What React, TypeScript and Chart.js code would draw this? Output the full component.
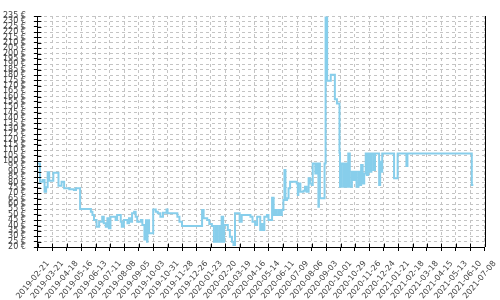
import React, { useEffect, useRef } from "react";
import { Chart, registerables } from "chart.js";

Chart.register(...registerables);

// ---- data ----
const startDate = "2019-02-21";
const xMaxDays = 868;
const xStepDays = 28;
const yMin = 20;
const yMax = 235;
const yStep = 5;
const currency = "€";

// days since 2019-02-21 at which the price changes
const dayOffsets = [
  0, 4, 9, 13, 16, 19, 22, 30, 40, 46, 51, 61, 70, 74, 82, 103, 106, 109, 114, 119,
  125, 128, 132, 135, 138, 141, 151, 154, 161, 163, 167, 174, 177, 180, 183, 187, 190, 193, 200, 203,
  207, 210, 212, 213, 216, 224, 229, 233, 238, 243, 250, 252, 271, 275, 280, 319, 322, 329, 333, 338,
  342, 346, 348, 352, 355, 357, 360, 362, 369, 373, 377, 380, 383, 392, 396, 413, 417, 422, 426, 432,
  435, 438, 440, 445, 448, 455, 458, 461, 464, 468, 471, 474, 477, 479, 481, 484, 487, 490, 503, 505,
  506, 510, 516, 519, 522, 526, 529, 532, 534, 539, 542, 545, 546, 548, 557, 559, 562, 569, 577, 581,
  586, 587, 590, 594, 597, 600, 603, 606, 610, 613, 616, 619, 623, 626, 628, 631, 634, 637, 639, 642,
  645, 648, 652, 655, 663, 665, 668, 669, 692, 699, 716, 718, 843, 846,
];

const prices = [
  97.8, 80.7, 82.3, 71.4, 75.5, 89.5, 81.7, 89.1, 77.0, 80.7, 74.6, 73.7, 73.0, 74.6, 55.3, 52.8, 49.8, 45.1, 38.9, 43.5,
  48.2, 42.0, 38.9, 46.7, 37.4, 48.2, 45.1, 49.8, 43.5, 38.9, 45.1, 42.0, 46.7, 43.5, 51.3, 52.8, 48.2, 43.5, 45.1, 40.5,
  27.0, 45.0, 25.0, 45.0, 32.7, 55.0, 52.8, 51.3, 48.2, 51.9, 55.0, 51.3, 48.2, 43.5, 39.5, 54.4, 46.7, 45.1, 41.4, 39.5,
  24.9, 39.5, 24.9, 39.5, 24.9, 48.2, 24.9, 40.5, 35.8, 29.6, 24.9, 21.9, 51.3, 43.5, 49.8, 48.2, 43.5, 40.5, 48.2, 35.8,
  41.4, 35.8, 48.2, 49.8, 45.1, 65.9, 49.8, 54.4, 49.8, 54.4, 49.8, 54.4, 63.7, 91.6, 63.7, 65.3, 74.6, 80.7, 79.2, 68.4,
  79.2, 71.4, 72.4, 76.0, 71.4, 83.9, 79.2, 77.7, 97.8, 88.5, 97.8, 57.5, 97.8, 65.3, 97.8, 233.6, 174.7, 180.3, 157.4, 153.6,
  107.7, 76.0, 97.8, 76.0, 97.8, 76.0, 107.1, 76.0, 90.0, 82.3, 90.0, 76.0, 90.0, 77.7, 96.3, 79.2, 88.5, 107.1, 87.0, 107.1,
  90.0, 107.1, 91.6, 107.1, 77.7, 99.3, 90.0, 107.1, 83.9, 107.1, 95.3, 107.1, 77.7, 77.7,
];

function formatDay(d: number): string {
  const [yy, mm, dd] = startDate.split("-").map(Number);
  const t = Date.UTC(yy, mm - 1, dd) + d * 86400000;
  return new Date(t).toISOString().slice(0, 10);
}

const framePlugin = {
  id: "frameTicks",
  afterDraw(chart: any) {
    const { ctx, chartArea, scales } = chart;
    const { left, right, top, bottom } = chartArea;
    const xs = scales.x;
    const ys = scales.y;
    ctx.save();
    ctx.strokeStyle = "#000";
    ctx.lineWidth = 1;
    ctx.beginPath();
    const rx = Math.round(right) + 0.5;
    ctx.moveTo(rx, top);
    ctx.lineTo(rx, bottom);
    ys.ticks.forEach((t: any) => {
      const py = Math.round(ys.getPixelForValue(t.value)) + 0.5;
      ctx.moveTo(left, py);
      ctx.lineTo(left + 3.5, py);
    });
    xs.ticks.forEach((t: any) => {
      const px = Math.round(xs.getPixelForValue(t.value)) + 0.5;
      ctx.moveTo(px, bottom);
      ctx.lineTo(px, bottom - 3.5);
    });
    ctx.stroke();
    ctx.restore();
  },
};

export default function App() {
  const canvasRef = useRef<HTMLCanvasElement | null>(null);

  useEffect(() => {
    document.body.style.margin = "0";
    const canvas = canvasRef.current;
    if (!canvas) return;
    const points = dayOffsets.map((d, i) => ({ x: d, y: prices[i] }));
    const chart = new Chart(canvas, {
      type: "line",
      data: {
        datasets: [
          {
            data: points,
            borderColor: "#87ceeb",
            borderWidth: 2,
            pointRadius: 0,
            stepped: true,
            fill: false,
          },
        ],
      },
      options: {
        animation: false,
        responsive: false,
        maintainAspectRatio: false,
        layout: { padding: { top: 16, right: 15, left: 0, bottom: 0 }, autoPadding: false },
        plugins: {
          legend: { display: false },
          tooltip: { enabled: false },
          frameTicks: {},
        } as any,
        scales: {
          x: {
            type: "linear",
            min: 0,
            max: xMaxDays,
            afterFit: (s: any) => {
              s.height = 53;
            },
            grid: {
              color: "#c4c4c4",
              tickColor: "#000",
              tickLength: 4,
              drawTicks: true,
            },
            border: { color: "#000", width: 1, dash: [3, 3] },
            ticks: {
              stepSize: xStepDays,
              autoSkip: false,
              maxRotation: 50,
              minRotation: 50,
              padding: 8,
              labelOffset: 10,
              color: "#444",
              font: { family: "DejaVu Sans", size: 8 },
              callback: (v: any) => formatDay(Number(v)),
            },
          },
          y: {
            type: "linear",
            min: yMin,
            max: yMax,
            afterFit: (s: any) => {
              s.width = 37;
            },
            grid: {
              color: "#c4c4c4",
              tickColor: "#000",
              tickLength: 4,
              drawTicks: true,
            },
            border: { color: "#000", width: 1, dash: [3, 3] },
            ticks: {
              stepSize: yStep,
              autoSkip: false,
              padding: 8,
              color: "#444",
              font: { family: "DejaVu Sans", size: 8 },
              callback: (v: any) => `${v} ${currency}`,
            },
          },
        },
      },
      plugins: [framePlugin],
    });
    return () => chart.destroy();
  }, []);

  return (
    <div style={{ width: 500, height: 300 }}>
      <canvas ref={canvasRef} width={500} height={300} />
    </div>
  );
}
